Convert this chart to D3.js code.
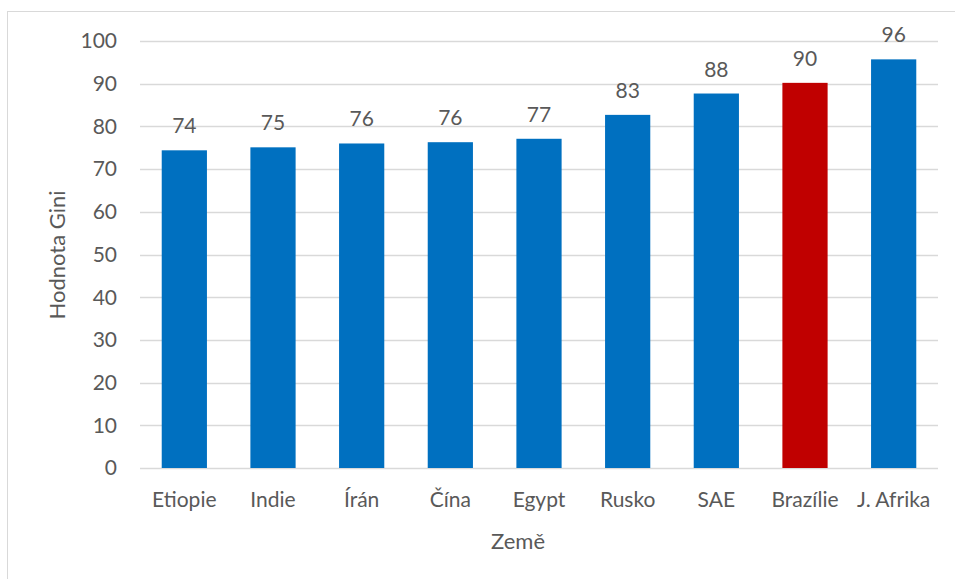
<!DOCTYPE html>
<html>
<head>
<meta charset="utf-8">
<script src="https://cdn.jsdelivr.net/npm/d3@7"></script>
<style>
  body { margin: 0; background: #fff; }
  text { font-family: Lato, "Open Sans", sans-serif; fill: #595959; }
</style>
</head>
<body>
<script>
// chart data
var countries = ["Etiopie", "Indie", "Írán", "Čína", "Egypt", "Rusko", "SAE", "Brazílie", "J. Afrika"];
var giniValues = [74.4, 75.1, 76.0, 76.3, 77.1, 82.7, 87.7, 90.2, 95.7];
var highlighted = ["Brazílie"];
var yTicks = [0, 10, 20, 30, 40, 50, 60, 70, 80, 90, 100];

function main() {
    var width = 955,
        height = 579;

    var svg = d3.select("body")
        .append("svg")
        .attr("width", width)
        .attr("height", height);

    // chart border
    svg.append("rect")
        .attr("x", 7.5)
        .attr("y", 11.5)
        .attr("width", 960)
        .attr("height", 600)
        .attr("fill", "none")
        .attr("stroke", "#d9d9d9");

    var plot = { left: 140, right: 938, top: 41, bottom: 468 };

    var x = d3.scaleBand()
        .domain(countries)
        .range([plot.left, plot.right])
        .paddingInner(0.49)
        .paddingOuter(0.245);

    var y = d3.scaleLinear()
        .domain([0, 100])
        .range([plot.bottom, plot.top]);

    // gridlines
    svg.append("g")
        .selectAll("line")
        .data(yTicks)
        .join("line")
        .attr("x1", plot.left)
        .attr("x2", plot.right)
        .attr("y1", d => Math.round(y(d)) + 0.5)
        .attr("y2", d => Math.round(y(d)) + 0.5)
        .attr("stroke", "#d9d9d9")
        .attr("stroke-width", 1.3);

    // y tick labels
    svg.append("g")
        .selectAll("text")
        .data(yTicks)
        .join("text")
        .attr("x", 117)
        .attr("y", d => y(d))
        .attr("dy", "0.35em")
        .attr("text-anchor", "end")
        .attr("font-size", 21)
        .text(d => d);

    // bars
    svg.append("g")
        .selectAll("rect")
        .data(countries)
        .join("rect")
        .attr("x", d => x(d))
        .attr("y", (d, i) => y(giniValues[i]))
        .attr("width", x.bandwidth())
        .attr("height", (d, i) => y(0) - y(giniValues[i]))
        .attr("fill", d => highlighted.includes(d) ? "#c00000" : "#0070c0");

    // value labels
    svg.append("g")
        .selectAll("text")
        .data(countries)
        .join("text")
        .attr("x", d => x(d) + x.bandwidth() / 2)
        .attr("y", (d, i) => y(giniValues[i]) - 17)
        .attr("text-anchor", "middle")
        .attr("font-size", 21)
        .text((d, i) => Math.round(giniValues[i]));

    // category labels
    svg.append("g")
        .selectAll("text")
        .data(countries)
        .join("text")
        .attr("x", d => x(d) + x.bandwidth() / 2)
        .attr("y", 507)
        .attr("text-anchor", "middle")
        .attr("font-size", 21)
        .text(d => d);

    // axis titles
    svg.append("text")
        .attr("x", 518)
        .attr("y", 549)
        .attr("text-anchor", "middle")
        .attr("font-size", 22)
        .text("Země");

    svg.append("text")
        .attr("transform", "translate(65,255) rotate(-90)")
        .attr("text-anchor", "middle")
        .attr("font-size", 22)
        .text("Hodnota Gini");
}

window.onload = main;
</script>
</body>
</html>
